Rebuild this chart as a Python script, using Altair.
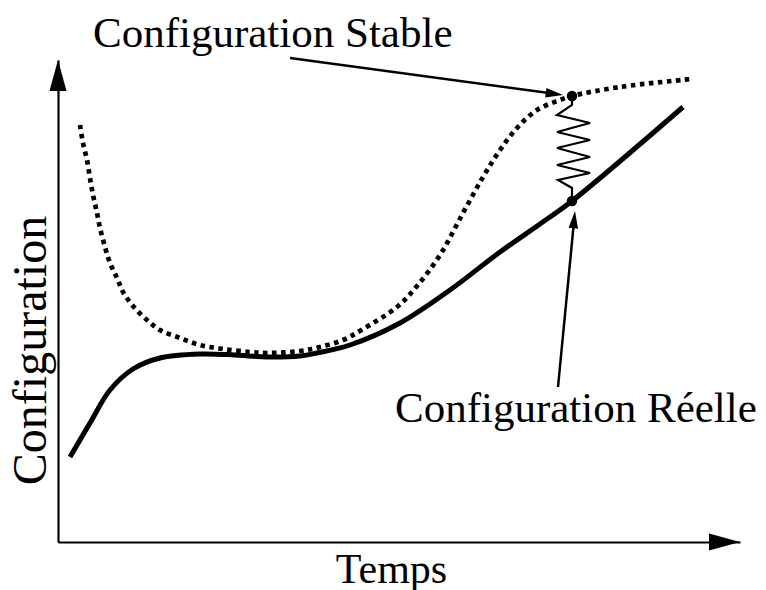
import math
import altair as alt
import pandas as pd

# Chart coordinates: x = time (0 at the y axis), y = configuration (0 at the x axis)
stable_x = [22, 25, 29, 32, 35, 39, 42, 47, 52, 59, 65, 75, 89, 102, 122, 142, 165, 192,
            209, 242, 262, 285, 305, 339, 359, 382, 405, 425, 442, 459, 479, 502, 514, 562, 634]
stable_y = [417, 399, 382, 364, 347, 329, 314, 295, 279, 264, 250, 236, 222, 212, 204, 197, 193, 190,
            189, 191, 195, 202, 213, 235, 256, 287, 329, 365, 392, 414, 432, 442, 446, 455, 463]

real_x = [12, 32, 52, 75, 102, 142, 177, 209, 242, 259, 292, 342, 392, 442, 482, 514, 625]
real_y = [85, 119, 152, 173, 184, 188, 187, 185, 186, 189, 197, 219, 252, 290, 318, 341, 435]

spring_x = [514, 514, 499, 532, 499, 532, 499, 532, 499, 532, 500, 514, 514]
spring_y = [446, 437, 427, 419, 410, 402, 394, 385, 377, 369, 362, 354, 341]

dots_x = [514, 514]
dots_y = [446, 341]

labels = ["Configuration Stable", "Configuration Réelle"]
label_x = [35, 337]
label_y = [495, 120]
arrow_start_x = [232, 500]
arrow_start_y = [484, 155]
arrow_tip_x = [505, 517]
arrow_tip_y = [447, 331]

W, H = 682, 482
FONT = "Liberation Serif"

xs = alt.Scale(domain=[0, W], nice=False, zero=False)
ys = alt.Scale(domain=[0, H], nice=False, zero=False)
X = alt.X("x:Q", scale=xs, axis=alt.Axis(
    title="Temps", domain=True, ticks=False, labels=False, grid=False,
    domainColor="black", domainWidth=2.2, titleFont=FONT, titleFontSize=42,
    titleFontWeight="normal", titleColor="black", titleX=333, titleY=40,
    titleAlign="center", titleBaseline="alphabetic"))
Y = alt.Y("y:Q", scale=ys, axis=alt.Axis(
    title="Configuration", domain=True, ticks=False, labels=False, grid=False,
    domainColor="black", domainWidth=2.2, titleFont=FONT, titleFontSize=48,
    titleFontWeight="normal", titleColor="black", titleAngle=270, titleX=-13,
    titleY=290, titleAlign="center", titleBaseline="alphabetic"))

stable = pd.DataFrame({"x": stable_x, "y": stable_y})
real = pd.DataFrame({"x": real_x, "y": real_y})
spring = pd.DataFrame({"x": spring_x, "y": spring_y, "o": list(range(len(spring_x)))})
dots = pd.DataFrame({"x": dots_x, "y": dots_y})
texts = pd.DataFrame({"x": label_x, "y": label_y, "t": labels})

ARROW = "M0,0L-2,-0.55L-2,0.55Z"

heads = []
lines = []
for sx, sy, tx, ty in zip(arrow_start_x, arrow_start_y, arrow_tip_x, arrow_tip_y):
    dx, dy = tx - sx, ty - sy
    n = math.hypot(dx, dy)
    size = 300
    L = math.sqrt(size)
    ang = math.degrees(math.atan2(-dy, dx)) % 360
    heads.append({"x": tx, "y": ty, "angle": ang, "size": size})
    lines.append({"x": sx, "y": sy, "x2": tx - dx / n * L * 0.6, "y2": ty - dy / n * L * 0.6})
heads.append({"x": W, "y": 0, "angle": 0, "size": 961})
heads.append({"x": 0, "y": H, "angle": 270, "size": 961})
heads = pd.DataFrame(heads)
lines = pd.DataFrame(lines)

stable_line = alt.Chart(stable).mark_line(
    color="black", strokeWidth=4.7, strokeDash=[4.5, 4.5], strokeCap="butt",
    interpolate="catmull-rom").encode(x=X, y=Y)

real_line = alt.Chart(real).mark_line(
    color="black", strokeWidth=5, interpolate="catmull-rom", strokeCap="butt").encode(x=X, y=Y)

spring_line = alt.Chart(spring).mark_line(
    color="black", strokeWidth=2.2, interpolate="linear").encode(x=X, y=Y, order="o:Q")

dot_pts = alt.Chart(dots).mark_circle(color="black", size=110, opacity=1).encode(x=X, y=Y)

arrow_lines = alt.Chart(lines).mark_rule(color="black", strokeWidth=2.5).encode(
    x=X, y=Y, x2="x2:Q", y2="y2:Q")

arrow_heads = alt.Chart(heads).mark_point(
    shape=ARROW, filled=True, color="black", opacity=1, strokeWidth=0).encode(
    x=X, y=Y, size=alt.Size("size:Q", scale=None), angle=alt.Angle("angle:Q", scale=None))

label_text = alt.Chart(texts).mark_text(
    font=FONT, fontSize=43, align="left", baseline="alphabetic", color="black").encode(
    x=X, y=Y, text="t:N")

chart = alt.layer(
    stable_line, real_line, spring_line, dot_pts, arrow_lines, arrow_heads, label_text
).properties(
    width=W, height=H,
    autosize=alt.AutoSizeParams(type="none"),
    padding={"left": 50, "top": 52, "right": 18, "bottom": 48},
    background="white",
).configure_view(stroke=None)

chart.save("out.html", embed_options={"renderer": "svg", "actions": False})
